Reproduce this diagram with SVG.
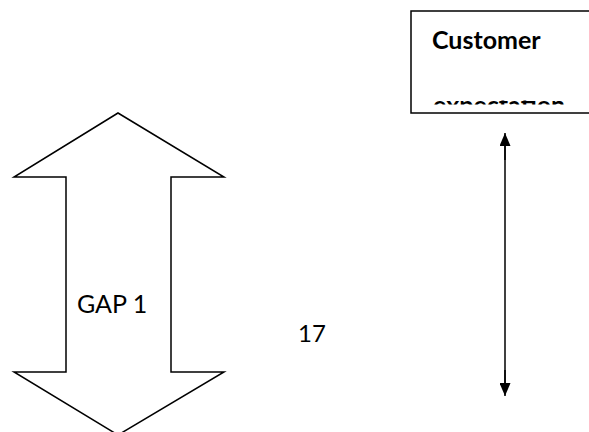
<svg xmlns="http://www.w3.org/2000/svg" width="589" height="432" viewBox="0 0 589 432">
  <style>
    .outline { fill: #ffffff; stroke: #000000; stroke-width: 1.5; stroke-linejoin: miter; }
    .label { font-family: Lato, "Open Sans", "Liberation Sans", sans-serif; font-size: 25px; fill: #000000; }
    .bold { font-weight: bold; }
    .conn { stroke: #000000; stroke-width: 1.5; fill: none; }
  </style>
  <defs>
    <marker id="head" viewBox="0 0 10 12" refX="10" refY="6" markerWidth="13" markerHeight="11" markerUnits="userSpaceOnUse" orient="auto-start-reverse" preserveAspectRatio="none">
      <path d="M0,0 L10,6 L0,12 Z" fill="#000000"/>
    </marker>
    <!-- second line of the box is cut off: only a thin band of it shows -->
    <clipPath id="lineClip">
      <rect x="411" y="100.5" width="178" height="4"/>
    </clipPath>
  </defs>
  <rect width="589" height="432" fill="#ffffff"/>

  <!-- double-headed block arrow labelled GAP 1 -->
  <g id="gap1">
    <path class="outline" d="M118,113 L224,177 L171,177 L171,372 L224,372 L118,435 L14,372 L66,372 L66,177 L14,177 Z"/>
    <text class="label" x="77" y="313">GAP 1</text>
  </g>

  <!-- page number -->
  <g id="page-number">
    <text class="label" x="298" y="342" style="font-size:24px">17</text>
  </g>

  <!-- customer expectation box -->
  <g id="customer-expectation">
    <rect class="outline" x="411" y="11" width="190" height="102"/>
    <text class="label bold" x="432" y="49">Customer</text>
    <g clip-path="url(#lineClip)">
      <text class="label bold" x="433" y="113.5">expectation</text>
    </g>
  </g>

  <!-- connectors -->
  <g id="connectors">
    <line class="conn" x1="505" y1="145" x2="505" y2="384"/>
    <line class="conn" x1="505" y1="160" x2="505" y2="133" marker-end="url(#head)"/>
    <line class="conn" x1="505" y1="370" x2="505" y2="396" marker-end="url(#head)"/>
  </g>
</svg>
